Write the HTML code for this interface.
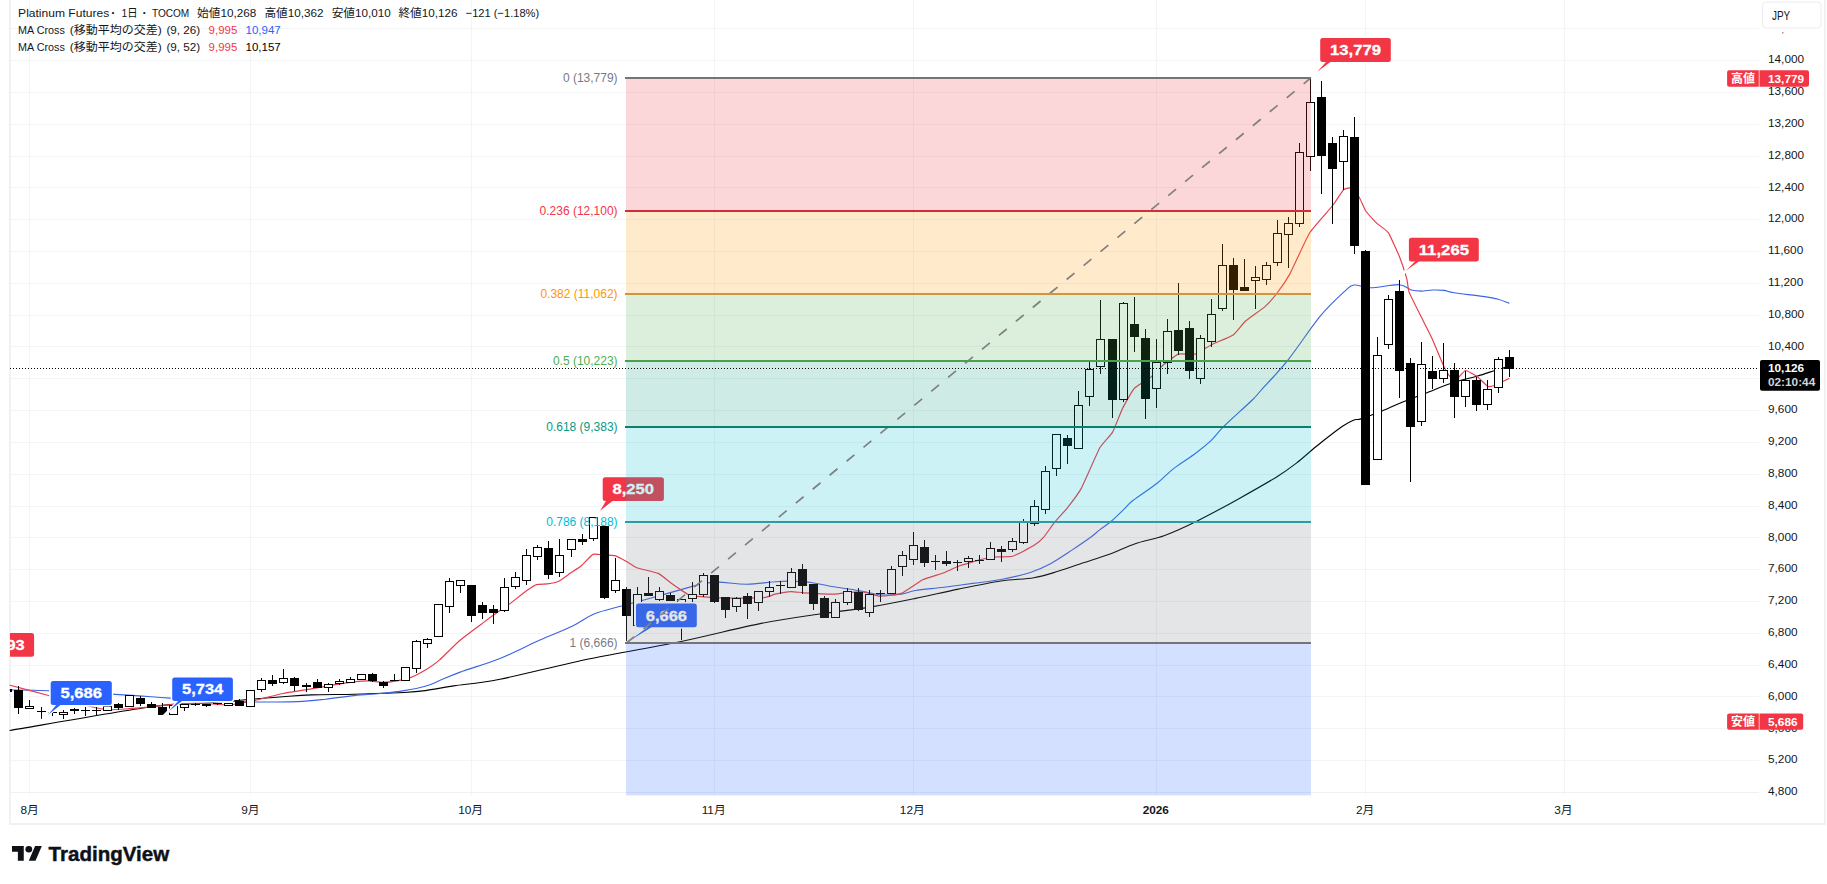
<!DOCTYPE html>
<html lang="ja"><head><meta charset="utf-8"><title>Platinum Futures – TradingView</title>
<style>
html,body{margin:0;padding:0;background:#fff;}
body{width:1827px;height:884px;position:relative;overflow:hidden;font-family:'Liberation Sans','Noto Sans CJK JP',sans-serif;}
</style></head>
<body>
<svg width="1827" height="884" viewBox="0 0 1827 884" style="position:absolute;left:0;top:0;font-family:'Liberation Sans','Noto Sans CJK JP',sans-serif">
<rect width="1827" height="884" fill="#fff"/>
<g fill="#F2F4F5" shape-rendering="crispEdges">
<rect x="10" y="28" width="1749" height="1"/>
<rect x="10" y="60" width="1749" height="1"/>
<rect x="10" y="92" width="1749" height="1"/>
<rect x="10" y="124" width="1749" height="1"/>
<rect x="10" y="156" width="1749" height="1"/>
<rect x="10" y="187" width="1749" height="1"/>
<rect x="10" y="219" width="1749" height="1"/>
<rect x="10" y="251" width="1749" height="1"/>
<rect x="10" y="283" width="1749" height="1"/>
<rect x="10" y="315" width="1749" height="1"/>
<rect x="10" y="346" width="1749" height="1"/>
<rect x="10" y="378" width="1749" height="1"/>
<rect x="10" y="410" width="1749" height="1"/>
<rect x="10" y="442" width="1749" height="1"/>
<rect x="10" y="474" width="1749" height="1"/>
<rect x="10" y="506" width="1749" height="1"/>
<rect x="10" y="537" width="1749" height="1"/>
<rect x="10" y="569" width="1749" height="1"/>
<rect x="10" y="601" width="1749" height="1"/>
<rect x="10" y="633" width="1749" height="1"/>
<rect x="10" y="665" width="1749" height="1"/>
<rect x="10" y="696" width="1749" height="1"/>
<rect x="10" y="728" width="1749" height="1"/>
<rect x="10" y="760" width="1749" height="1"/>
<rect x="29" y="0" width="1" height="796"/>
<rect x="250" y="0" width="1" height="796"/>
<rect x="471" y="0" width="1" height="796"/>
<rect x="714" y="0" width="1" height="796"/>
<rect x="913" y="0" width="1" height="796"/>
<rect x="1156" y="0" width="1" height="796"/>
<rect x="1365" y="0" width="1" height="796"/>
<rect x="1564" y="0" width="1" height="796"/>
</g>
<g fill="#F0F1F3" shape-rendering="crispEdges">
<rect x="9" y="0" width="2" height="825"/>
<rect x="1824" y="0" width="2" height="825"/>
<rect x="9" y="823" width="1817" height="2"/>
<rect x="11" y="792" width="1748" height="1"/>
</g>
<path d="M10.0 730.5C33.3 726.6 118.0 711.5 149.7 707.0C181.4 702.5 184.9 704.6 200.0 703.5C215.1 702.4 226.2 701.3 240.0 700.2C253.8 699.1 270.9 697.6 282.8 696.7C294.7 695.8 299.4 695.3 311.3 694.9C323.2 694.5 342.1 694.5 354.0 694.2C365.9 693.9 374.3 693.5 382.6 693.2C390.9 692.9 396.8 692.9 403.9 692.5C411.0 692.1 417.0 691.7 425.3 690.6C433.6 689.5 441.4 687.8 453.8 685.9C466.2 684.0 477.3 683.7 500.0 679.2C522.7 674.7 559.8 665.1 590.0 658.8C620.2 652.5 652.7 647.4 681.2 641.5C709.7 635.6 738.3 627.9 761.1 623.4C783.9 618.9 806.6 616.0 818.1 614.2C829.6 612.4 820.9 613.9 830.0 612.6C839.1 611.3 858.5 609.0 872.8 606.6C887.0 604.2 901.2 601.3 915.5 598.4C929.8 595.5 944.0 592.0 958.3 589.1C972.6 586.2 988.5 582.9 1001.1 581.0C1013.7 579.1 1024.3 579.3 1033.8 577.7C1043.3 576.1 1050.4 573.6 1058.1 571.3C1065.8 569.0 1071.1 567.0 1080.0 564.0C1088.9 561.0 1102.3 556.9 1111.5 553.5C1120.7 550.1 1126.3 546.7 1135.2 543.7C1144.1 540.7 1154.2 539.3 1164.7 535.4C1175.2 531.5 1186.1 526.4 1198.2 520.4C1210.3 514.4 1224.5 506.7 1237.6 499.4C1250.7 492.1 1267.2 482.8 1277.0 476.7C1286.8 470.6 1290.1 468.0 1296.7 462.9C1303.3 457.8 1308.9 452.3 1316.5 446.2C1324.1 440.1 1335.9 430.9 1342.1 426.5C1348.3 422.1 1350.6 421.3 1353.9 420.0C1357.2 418.7 1356.2 420.5 1361.8 418.6C1367.4 416.7 1381.2 411.2 1387.4 408.7C1393.6 406.2 1392.9 406.0 1399.2 403.4C1405.5 400.8 1416.4 396.7 1425.5 393.2C1434.6 389.7 1445.4 385.1 1454.0 382.3C1462.6 379.5 1470.1 378.2 1476.9 376.2C1483.7 374.2 1490.0 372.0 1494.7 370.5C1499.5 369.0 1503.6 367.9 1505.4 367.4" fill="none" stroke="#000000" stroke-width="1.12" stroke-linejoin="round" stroke-linecap="round"/>
<path d="M10.0 689.9C16.4 690.0 28.8 689.9 48.5 690.8C68.2 691.7 107.8 693.9 128.0 695.1C148.2 696.3 152.1 697.0 169.6 698.1C187.1 699.2 218.9 700.9 233.0 701.5C247.1 702.1 243.6 702.0 254.3 702.0C265.0 702.0 285.1 702.1 297.0 701.6C308.9 701.1 316.0 700.2 325.5 699.2C335.0 698.2 344.5 696.6 354.0 695.6C363.5 694.6 374.3 694.0 382.6 693.2C390.9 692.4 396.8 691.8 403.9 690.6C411.0 689.5 419.4 688.0 425.3 686.3C431.2 684.6 433.8 683.0 439.6 680.6C445.4 678.2 450.1 675.8 460.2 672.1C470.3 668.4 486.7 663.9 500.0 658.5C513.3 653.1 527.9 645.4 540.0 640.0C552.1 634.6 563.7 630.3 572.7 626.0C581.7 621.7 585.7 617.4 594.0 614.0C602.3 610.6 612.4 608.6 622.6 605.7C632.8 602.9 644.1 600.0 655.3 596.9C666.5 593.8 681.7 589.3 689.8 587.1C697.9 584.9 699.2 584.3 704.0 583.5C708.8 582.7 711.2 582.0 718.3 582.1C725.4 582.2 737.3 584.3 746.8 584.2C756.3 584.1 768.2 582.2 775.3 581.7C782.4 581.2 783.6 581.0 789.6 581.1C795.6 581.2 804.3 581.6 811.0 582.5C817.7 583.4 822.1 584.9 830.0 586.2C837.9 587.5 850.2 589.1 858.5 590.5C866.8 591.9 872.8 594.2 879.9 594.8C887.0 595.4 895.4 594.8 901.3 594.1C907.2 593.4 908.4 591.6 915.5 590.5C922.6 589.4 934.5 588.4 944.0 587.2C953.5 586.0 963.1 584.7 972.6 583.4C982.1 582.1 991.6 581.3 1001.1 579.5C1010.6 577.7 1021.3 575.4 1029.6 572.7C1037.9 570.0 1043.9 567.2 1051.0 563.4C1058.1 559.6 1065.8 554.2 1072.3 549.9C1078.8 545.6 1085.4 541.1 1090.0 537.8C1094.6 534.5 1096.1 532.7 1099.7 529.9C1103.3 527.1 1107.5 524.5 1111.5 521.0C1115.5 517.5 1120.4 512.6 1124.0 509.1C1127.6 505.7 1127.7 504.6 1133.2 500.3C1138.7 496.0 1150.0 488.8 1156.8 483.5C1163.6 478.2 1167.5 473.4 1173.9 468.4C1180.3 463.4 1189.1 458.1 1195.3 453.5C1201.5 448.9 1206.2 445.1 1211.0 440.6C1215.8 436.1 1216.9 433.2 1223.8 426.4C1230.7 419.6 1246.0 406.1 1252.3 400.0C1258.5 393.9 1255.3 396.7 1261.3 390.0C1267.3 383.3 1278.3 372.1 1288.1 359.8C1297.9 347.5 1310.7 327.7 1320.0 316.4C1329.3 305.1 1338.4 297.1 1344.0 291.9C1349.6 286.7 1349.4 285.7 1353.8 285.0C1358.2 284.3 1363.0 287.9 1370.6 287.8C1378.2 287.8 1392.4 284.3 1399.2 284.7C1406.0 285.1 1407.6 288.9 1411.3 290.0C1415.0 291.1 1417.7 291.1 1421.3 291.1C1424.9 291.1 1428.9 290.1 1432.7 290.0C1436.5 289.9 1440.5 289.9 1444.1 290.4C1447.6 290.9 1447.6 291.8 1454.0 292.8C1460.4 293.8 1475.2 295.3 1482.6 296.4C1490.0 297.5 1493.8 298.1 1498.2 299.2C1502.6 300.3 1507.1 302.5 1508.9 303.1" fill="none" stroke="#3A64E4" stroke-width="1.12" stroke-linejoin="round" stroke-linecap="round"/>
<path d="M10.0 685.3C12.8 686.0 44.2 694.3 48.5 695.5C52.8 696.7 66.8 700.7 70.0 701.5C73.2 702.3 90.0 706.4 92.7 707.0C95.4 707.6 106.0 709.7 108.3 709.8C110.6 709.9 122.6 709.1 125.0 709.0C127.4 708.9 140.2 707.9 142.5 707.7C144.8 707.5 154.2 706.5 156.8 706.2C159.4 705.9 175.1 704.3 178.2 704.1C181.3 703.9 196.0 703.0 199.6 703.1C203.2 703.2 224.9 705.1 228.0 705.1C231.1 705.1 240.4 703.0 242.3 702.7C244.2 702.4 251.4 701.3 254.3 700.6C257.2 699.9 278.7 694.3 282.8 693.5C286.9 692.7 307.2 689.6 311.3 688.9C315.4 688.2 336.8 684.4 339.8 683.9C342.9 683.4 352.0 682.0 354.0 681.8C356.0 681.6 366.3 680.9 368.3 680.9C370.3 680.9 380.6 682.4 382.6 682.4C384.6 682.4 394.8 681.3 396.8 680.9C398.8 680.5 409.0 678.2 411.1 677.4C413.2 676.6 424.7 670.5 426.7 669.3C428.7 668.0 437.3 661.9 439.6 659.9C441.9 657.9 456.4 643.3 459.5 640.7C462.6 638.1 479.4 625.5 482.3 623.4C485.2 621.2 498.1 611.9 500.0 610.6C501.9 609.3 506.6 606.2 508.5 604.8C510.4 603.4 524.9 591.9 526.9 590.5C528.9 589.1 534.9 585.1 536.4 584.6C537.9 584.1 545.9 584.1 547.5 583.9C549.1 583.7 557.1 582.1 558.7 581.3C560.3 580.5 568.9 574.2 570.5 573.1C572.1 572.0 580.1 566.8 581.7 565.5C583.3 564.2 591.3 555.1 592.9 554.4C594.5 553.6 602.4 554.9 604.0 555.0C605.6 555.1 613.1 555.2 614.7 555.6C616.3 556.0 624.4 560.3 626.0 561.2C627.6 562.1 634.5 566.8 636.8 567.7C639.1 568.6 655.6 572.2 658.2 573.4C660.8 574.6 670.4 582.6 672.7 584.2C675.0 585.8 687.6 594.5 689.8 595.4C692.0 596.3 702.0 596.6 704.0 596.8C706.0 597.0 715.8 597.7 718.3 597.8C720.8 597.9 736.3 598.2 739.7 598.2C743.1 598.2 762.8 597.6 765.3 597.3C767.8 597.0 773.5 594.6 775.3 594.2C777.1 593.8 789.0 591.7 791.0 591.6C793.0 591.5 800.8 592.6 803.8 592.8C806.8 593.0 829.4 594.2 832.3 594.2C835.2 594.2 842.1 593.1 844.3 592.9C846.5 592.7 860.3 591.7 862.8 591.9C865.3 592.1 877.1 596.1 879.9 596.2C882.6 596.3 898.2 594.6 901.3 593.4C904.4 592.2 919.7 581.3 922.7 579.8C925.8 578.3 941.5 573.7 944.0 572.7C946.5 571.7 955.8 567.2 958.3 566.3C960.8 565.4 977.2 560.6 979.7 559.9C982.2 559.2 991.6 557.3 993.9 557.0C996.2 556.7 1009.6 557.1 1012.5 556.3C1015.4 555.5 1031.6 547.0 1033.8 545.6C1036.0 544.2 1042.3 538.8 1043.8 537.1C1045.3 535.4 1053.5 523.5 1055.2 521.4C1056.9 519.3 1065.1 510.7 1067.0 508.3C1068.9 505.9 1079.0 492.7 1081.3 488.4C1083.6 484.1 1097.6 451.8 1099.8 447.8C1102.0 443.8 1111.0 434.9 1112.6 432.1C1114.2 429.3 1120.9 411.8 1122.4 408.7C1123.9 405.6 1132.0 390.9 1134.1 388.6C1136.2 386.3 1149.2 378.5 1151.2 376.9C1153.2 375.2 1160.7 367.1 1162.6 365.5C1164.5 363.9 1176.0 354.9 1178.3 354.1C1180.6 353.3 1193.1 354.8 1195.4 354.1C1197.7 353.4 1208.4 346.3 1211.1 344.9C1213.8 343.5 1230.8 336.6 1233.2 334.9C1235.6 333.2 1243.0 323.3 1245.3 321.3C1247.6 319.3 1263.1 308.4 1265.3 306.4C1267.5 304.4 1275.0 295.8 1276.7 293.5C1278.5 291.2 1287.4 278.4 1289.8 274.1C1292.2 269.8 1306.6 237.7 1309.7 232.8C1312.8 227.9 1330.3 208.6 1332.7 205.5C1335.1 202.4 1342.2 191.1 1343.4 189.9C1344.6 188.7 1348.8 187.6 1349.9 188.1C1351.0 188.6 1358.0 195.4 1359.1 197.0C1360.2 198.6 1364.2 208.6 1365.5 210.5C1366.8 212.4 1375.3 221.8 1376.9 223.4C1378.5 225.0 1386.7 230.2 1388.3 232.6C1389.9 235.0 1398.3 253.7 1399.6 257.0C1400.9 260.3 1406.0 275.9 1406.7 278.4C1407.4 280.9 1408.1 289.3 1409.1 292.1C1410.1 294.9 1419.6 313.6 1421.3 317.0C1423.0 320.4 1431.1 336.3 1432.7 339.9C1434.3 343.5 1442.8 364.3 1444.1 366.9C1445.4 369.5 1449.5 376.1 1450.5 376.9C1451.5 377.7 1457.2 378.1 1458.3 377.6C1459.4 377.1 1464.1 370.6 1465.4 370.5C1466.7 370.4 1475.3 375.1 1476.9 376.2C1478.5 377.3 1486.2 385.5 1487.5 386.2C1488.8 386.9 1493.2 386.0 1494.7 385.5C1496.2 385.0 1507.9 379.1 1508.9 378.6" fill="none" stroke="#E83C4C" stroke-width="1.18" stroke-linejoin="round" stroke-linecap="round"/>
<g shape-rendering="crispEdges">
<rect x="10" y="689" width="2" height="3" fill="#000"/>
<rect x="18" y="686" width="1" height="28" fill="#000"/>
<rect x="14" y="690" width="9" height="18" fill="#000"/>
<rect x="29" y="700" width="1" height="9" fill="#000"/>
<rect x="25" y="706" width="9" height="3" fill="#000"/>
<rect x="26" y="707" width="7" height="1" fill="#fff"/>
<rect x="41" y="707" width="1" height="12" fill="#000"/>
<rect x="37" y="711" width="9" height="1" fill="#000"/>
<rect x="52" y="709" width="1" height="7" fill="#000"/>
<rect x="48" y="712" width="9" height="1" fill="#000"/>
<rect x="63" y="710" width="1" height="9" fill="#000"/>
<rect x="59" y="712" width="9" height="3" fill="#000"/>
<rect x="60" y="713" width="7" height="1" fill="#fff"/>
<rect x="74" y="708" width="1" height="6" fill="#000"/>
<rect x="70" y="709" width="9" height="2" fill="#000"/>
<rect x="85" y="707" width="1" height="9" fill="#000"/>
<rect x="81" y="710" width="9" height="1" fill="#000"/>
<rect x="96" y="707" width="1" height="9" fill="#000"/>
<rect x="92" y="710" width="9" height="1" fill="#000"/>
<rect x="107" y="705" width="1" height="6" fill="#000"/>
<rect x="103" y="706" width="9" height="5" fill="#000"/>
<rect x="104" y="707" width="7" height="3" fill="#fff"/>
<rect x="118" y="703" width="1" height="7" fill="#000"/>
<rect x="114" y="704" width="9" height="4" fill="#000"/>
<rect x="129" y="695" width="1" height="12" fill="#000"/>
<rect x="125" y="695" width="9" height="12" fill="#000"/>
<rect x="126" y="696" width="7" height="10" fill="#fff"/>
<rect x="140" y="696" width="1" height="10" fill="#000"/>
<rect x="136" y="698" width="9" height="6" fill="#000"/>
<rect x="151" y="702" width="1" height="6" fill="#000"/>
<rect x="147" y="704" width="9" height="4" fill="#000"/>
<rect x="162" y="703" width="1" height="12" fill="#000"/>
<rect x="158" y="707" width="9" height="8" fill="#000"/>
<rect x="173" y="705" width="1" height="10" fill="#000"/>
<rect x="169" y="705" width="9" height="10" fill="#000"/>
<rect x="170" y="706" width="7" height="8" fill="#fff"/>
<rect x="184" y="704" width="1" height="7" fill="#000"/>
<rect x="180" y="704" width="9" height="4" fill="#000"/>
<rect x="181" y="705" width="7" height="2" fill="#fff"/>
<rect x="195" y="703" width="1" height="3" fill="#000"/>
<rect x="191" y="704" width="9" height="1" fill="#000"/>
<rect x="206" y="704" width="1" height="3" fill="#000"/>
<rect x="202" y="704" width="9" height="2" fill="#000"/>
<rect x="217" y="703" width="1" height="2" fill="#000"/>
<rect x="213" y="703" width="9" height="1" fill="#000"/>
<rect x="228" y="703" width="1" height="3" fill="#000"/>
<rect x="224" y="703" width="9" height="3" fill="#000"/>
<rect x="225" y="704" width="7" height="1" fill="#fff"/>
<rect x="239" y="699" width="1" height="7" fill="#000"/>
<rect x="235" y="701" width="9" height="5" fill="#000"/>
<rect x="250" y="690" width="1" height="17" fill="#000"/>
<rect x="246" y="690" width="9" height="17" fill="#000"/>
<rect x="247" y="691" width="7" height="15" fill="#fff"/>
<rect x="261" y="678" width="1" height="14" fill="#000"/>
<rect x="257" y="680" width="9" height="10" fill="#000"/>
<rect x="258" y="681" width="7" height="8" fill="#fff"/>
<rect x="272" y="675" width="1" height="11" fill="#000"/>
<rect x="268" y="680" width="9" height="4" fill="#000"/>
<rect x="283" y="669" width="1" height="15" fill="#000"/>
<rect x="279" y="678" width="9" height="5" fill="#000"/>
<rect x="280" y="679" width="7" height="3" fill="#fff"/>
<rect x="294" y="677" width="1" height="14" fill="#000"/>
<rect x="290" y="678" width="9" height="8" fill="#000"/>
<rect x="306" y="683" width="1" height="9" fill="#000"/>
<rect x="302" y="685" width="9" height="2" fill="#000"/>
<rect x="317" y="679" width="1" height="9" fill="#000"/>
<rect x="313" y="682" width="9" height="6" fill="#000"/>
<rect x="328" y="683" width="1" height="9" fill="#000"/>
<rect x="324" y="684" width="9" height="4" fill="#000"/>
<rect x="325" y="685" width="7" height="2" fill="#fff"/>
<rect x="339" y="679" width="1" height="6" fill="#000"/>
<rect x="335" y="681" width="9" height="3" fill="#000"/>
<rect x="336" y="682" width="7" height="1" fill="#fff"/>
<rect x="350" y="677" width="1" height="6" fill="#000"/>
<rect x="346" y="679" width="9" height="4" fill="#000"/>
<rect x="347" y="680" width="7" height="2" fill="#fff"/>
<rect x="361" y="674" width="1" height="6" fill="#000"/>
<rect x="357" y="674" width="9" height="6" fill="#000"/>
<rect x="358" y="675" width="7" height="4" fill="#fff"/>
<rect x="372" y="673" width="1" height="9" fill="#000"/>
<rect x="368" y="674" width="9" height="7" fill="#000"/>
<rect x="383" y="681" width="1" height="7" fill="#000"/>
<rect x="379" y="682" width="9" height="4" fill="#000"/>
<rect x="394" y="674" width="1" height="7" fill="#000"/>
<rect x="390" y="680" width="9" height="1" fill="#000"/>
<rect x="405" y="667" width="1" height="14" fill="#000"/>
<rect x="401" y="667" width="9" height="14" fill="#000"/>
<rect x="402" y="668" width="7" height="12" fill="#fff"/>
<rect x="416" y="640" width="1" height="33" fill="#000"/>
<rect x="412" y="641" width="9" height="28" fill="#000"/>
<rect x="413" y="642" width="7" height="26" fill="#fff"/>
<rect x="427" y="638" width="1" height="10" fill="#000"/>
<rect x="423" y="639" width="9" height="5" fill="#000"/>
<rect x="424" y="640" width="7" height="3" fill="#fff"/>
<rect x="438" y="604" width="1" height="33" fill="#000"/>
<rect x="434" y="604" width="9" height="33" fill="#000"/>
<rect x="435" y="605" width="7" height="31" fill="#fff"/>
<rect x="449" y="578" width="1" height="35" fill="#000"/>
<rect x="445" y="581" width="9" height="26" fill="#000"/>
<rect x="446" y="582" width="7" height="24" fill="#fff"/>
<rect x="460" y="580" width="1" height="13" fill="#000"/>
<rect x="456" y="580" width="9" height="6" fill="#000"/>
<rect x="457" y="581" width="7" height="4" fill="#fff"/>
<rect x="471" y="585" width="1" height="37" fill="#000"/>
<rect x="467" y="585" width="9" height="31" fill="#000"/>
<rect x="482" y="602" width="1" height="17" fill="#000"/>
<rect x="478" y="605" width="9" height="8" fill="#000"/>
<rect x="493" y="605" width="1" height="19" fill="#000"/>
<rect x="489" y="609" width="9" height="4" fill="#000"/>
<rect x="504" y="578" width="1" height="34" fill="#000"/>
<rect x="500" y="587" width="9" height="24" fill="#000"/>
<rect x="501" y="588" width="7" height="22" fill="#fff"/>
<rect x="515" y="572" width="1" height="17" fill="#000"/>
<rect x="511" y="577" width="9" height="10" fill="#000"/>
<rect x="512" y="578" width="7" height="8" fill="#fff"/>
<rect x="526" y="549" width="1" height="36" fill="#000"/>
<rect x="522" y="555" width="9" height="26" fill="#000"/>
<rect x="523" y="556" width="7" height="24" fill="#fff"/>
<rect x="537" y="545" width="1" height="15" fill="#000"/>
<rect x="533" y="547" width="9" height="10" fill="#000"/>
<rect x="534" y="548" width="7" height="8" fill="#fff"/>
<rect x="548" y="541" width="1" height="38" fill="#000"/>
<rect x="544" y="548" width="9" height="27" fill="#000"/>
<rect x="559" y="539" width="1" height="38" fill="#000"/>
<rect x="555" y="555" width="9" height="18" fill="#000"/>
<rect x="556" y="556" width="7" height="16" fill="#fff"/>
<rect x="571" y="539" width="1" height="18" fill="#000"/>
<rect x="567" y="539" width="9" height="11" fill="#000"/>
<rect x="568" y="540" width="7" height="9" fill="#fff"/>
<rect x="582" y="534" width="1" height="11" fill="#000"/>
<rect x="578" y="539" width="9" height="3" fill="#000"/>
<rect x="593" y="517" width="1" height="24" fill="#000"/>
<rect x="589" y="517" width="9" height="22" fill="#000"/>
<rect x="590" y="518" width="7" height="20" fill="#fff"/>
<rect x="604" y="526" width="1" height="73" fill="#000"/>
<rect x="600" y="526" width="9" height="72" fill="#000"/>
<rect x="615" y="558" width="1" height="35" fill="#000"/>
<rect x="611" y="580" width="9" height="11" fill="#000"/>
<rect x="612" y="581" width="7" height="9" fill="#fff"/>
<rect x="626" y="587" width="1" height="56" fill="#000"/>
<rect x="622" y="589" width="9" height="27" fill="#000"/>
<rect x="637" y="587" width="1" height="39" fill="#000"/>
<rect x="633" y="594" width="9" height="32" fill="#000"/>
<rect x="634" y="595" width="7" height="30" fill="#fff"/>
<rect x="648" y="577" width="1" height="19" fill="#000"/>
<rect x="644" y="593" width="9" height="3" fill="#000"/>
<rect x="659" y="587" width="1" height="14" fill="#000"/>
<rect x="655" y="591" width="9" height="9" fill="#000"/>
<rect x="656" y="592" width="7" height="7" fill="#fff"/>
<rect x="670" y="593" width="1" height="8" fill="#000"/>
<rect x="666" y="595" width="9" height="6" fill="#000"/>
<rect x="681" y="599" width="1" height="41" fill="#000"/>
<rect x="677" y="599" width="9" height="26" fill="#000"/>
<rect x="678" y="600" width="7" height="24" fill="#fff"/>
<rect x="692" y="582" width="1" height="20" fill="#000"/>
<rect x="688" y="594" width="9" height="5" fill="#000"/>
<rect x="689" y="595" width="7" height="3" fill="#fff"/>
<rect x="703" y="573" width="1" height="24" fill="#000"/>
<rect x="699" y="575" width="9" height="20" fill="#000"/>
<rect x="700" y="576" width="7" height="18" fill="#fff"/>
<rect x="714" y="575" width="1" height="28" fill="#000"/>
<rect x="710" y="575" width="9" height="27" fill="#000"/>
<rect x="725" y="597" width="1" height="21" fill="#000"/>
<rect x="721" y="597" width="9" height="13" fill="#000"/>
<rect x="736" y="597" width="1" height="15" fill="#000"/>
<rect x="732" y="598" width="9" height="9" fill="#000"/>
<rect x="733" y="599" width="7" height="7" fill="#fff"/>
<rect x="747" y="593" width="1" height="26" fill="#000"/>
<rect x="743" y="596" width="9" height="8" fill="#000"/>
<rect x="758" y="591" width="1" height="20" fill="#000"/>
<rect x="754" y="591" width="9" height="12" fill="#000"/>
<rect x="755" y="592" width="7" height="10" fill="#fff"/>
<rect x="769" y="581" width="1" height="16" fill="#000"/>
<rect x="765" y="587" width="9" height="5" fill="#000"/>
<rect x="766" y="588" width="7" height="3" fill="#fff"/>
<rect x="780" y="581" width="1" height="13" fill="#000"/>
<rect x="776" y="585" width="9" height="1" fill="#000"/>
<rect x="791" y="568" width="1" height="20" fill="#000"/>
<rect x="787" y="572" width="9" height="16" fill="#000"/>
<rect x="788" y="573" width="7" height="14" fill="#fff"/>
<rect x="802" y="564" width="1" height="30" fill="#000"/>
<rect x="798" y="569" width="9" height="17" fill="#000"/>
<rect x="813" y="584" width="1" height="26" fill="#000"/>
<rect x="809" y="584" width="9" height="20" fill="#000"/>
<rect x="824" y="596" width="1" height="22" fill="#000"/>
<rect x="820" y="598" width="9" height="20" fill="#000"/>
<rect x="835" y="599" width="1" height="19" fill="#000"/>
<rect x="831" y="602" width="9" height="16" fill="#000"/>
<rect x="832" y="603" width="7" height="14" fill="#fff"/>
<rect x="847" y="588" width="1" height="17" fill="#000"/>
<rect x="843" y="591" width="9" height="12" fill="#000"/>
<rect x="844" y="592" width="7" height="10" fill="#fff"/>
<rect x="858" y="588" width="1" height="23" fill="#000"/>
<rect x="854" y="592" width="9" height="18" fill="#000"/>
<rect x="869" y="590" width="1" height="27" fill="#000"/>
<rect x="865" y="594" width="9" height="19" fill="#000"/>
<rect x="866" y="595" width="7" height="17" fill="#fff"/>
<rect x="880" y="590" width="1" height="12" fill="#000"/>
<rect x="876" y="593" width="9" height="1" fill="#000"/>
<rect x="891" y="566" width="1" height="28" fill="#000"/>
<rect x="887" y="569" width="9" height="25" fill="#000"/>
<rect x="888" y="570" width="7" height="23" fill="#fff"/>
<rect x="902" y="551" width="1" height="25" fill="#000"/>
<rect x="898" y="555" width="9" height="12" fill="#000"/>
<rect x="899" y="556" width="7" height="10" fill="#fff"/>
<rect x="913" y="532" width="1" height="33" fill="#000"/>
<rect x="909" y="545" width="9" height="15" fill="#000"/>
<rect x="910" y="546" width="7" height="13" fill="#fff"/>
<rect x="924" y="540" width="1" height="27" fill="#000"/>
<rect x="920" y="547" width="9" height="16" fill="#000"/>
<rect x="935" y="555" width="1" height="15" fill="#000"/>
<rect x="931" y="561" width="9" height="1" fill="#000"/>
<rect x="946" y="551" width="1" height="15" fill="#000"/>
<rect x="942" y="561" width="9" height="3" fill="#000"/>
<rect x="957" y="560" width="1" height="11" fill="#000"/>
<rect x="953" y="562" width="9" height="1" fill="#000"/>
<rect x="968" y="556" width="1" height="12" fill="#000"/>
<rect x="964" y="558" width="9" height="4" fill="#000"/>
<rect x="965" y="559" width="7" height="2" fill="#fff"/>
<rect x="979" y="555" width="1" height="9" fill="#000"/>
<rect x="975" y="560" width="9" height="1" fill="#000"/>
<rect x="990" y="542" width="1" height="18" fill="#000"/>
<rect x="986" y="548" width="9" height="12" fill="#000"/>
<rect x="987" y="549" width="7" height="10" fill="#fff"/>
<rect x="1001" y="546" width="1" height="16" fill="#000"/>
<rect x="997" y="549" width="9" height="3" fill="#000"/>
<rect x="1012" y="538" width="1" height="14" fill="#000"/>
<rect x="1008" y="541" width="9" height="9" fill="#000"/>
<rect x="1009" y="542" width="7" height="7" fill="#fff"/>
<rect x="1023" y="519" width="1" height="25" fill="#000"/>
<rect x="1019" y="522" width="9" height="21" fill="#000"/>
<rect x="1020" y="523" width="7" height="19" fill="#fff"/>
<rect x="1034" y="500" width="1" height="26" fill="#000"/>
<rect x="1030" y="506" width="9" height="18" fill="#000"/>
<rect x="1031" y="507" width="7" height="16" fill="#fff"/>
<rect x="1045" y="466" width="1" height="48" fill="#000"/>
<rect x="1041" y="471" width="9" height="39" fill="#000"/>
<rect x="1042" y="472" width="7" height="37" fill="#fff"/>
<rect x="1056" y="434" width="1" height="42" fill="#000"/>
<rect x="1052" y="434" width="9" height="35" fill="#000"/>
<rect x="1053" y="435" width="7" height="33" fill="#fff"/>
<rect x="1067" y="435" width="1" height="29" fill="#000"/>
<rect x="1063" y="438" width="9" height="8" fill="#000"/>
<rect x="1078" y="391" width="1" height="58" fill="#000"/>
<rect x="1074" y="405" width="9" height="44" fill="#000"/>
<rect x="1075" y="406" width="7" height="42" fill="#fff"/>
<rect x="1089" y="361" width="1" height="45" fill="#000"/>
<rect x="1085" y="369" width="9" height="28" fill="#000"/>
<rect x="1086" y="370" width="7" height="26" fill="#fff"/>
<rect x="1100" y="300" width="1" height="74" fill="#000"/>
<rect x="1096" y="339" width="9" height="28" fill="#000"/>
<rect x="1097" y="340" width="7" height="26" fill="#fff"/>
<rect x="1112" y="339" width="1" height="79" fill="#000"/>
<rect x="1108" y="339" width="9" height="61" fill="#000"/>
<rect x="1123" y="302" width="1" height="100" fill="#000"/>
<rect x="1119" y="303" width="9" height="97" fill="#000"/>
<rect x="1120" y="304" width="7" height="95" fill="#fff"/>
<rect x="1134" y="297" width="1" height="55" fill="#000"/>
<rect x="1130" y="324" width="9" height="13" fill="#000"/>
<rect x="1145" y="329" width="1" height="90" fill="#000"/>
<rect x="1141" y="338" width="9" height="61" fill="#000"/>
<rect x="1156" y="339" width="1" height="69" fill="#000"/>
<rect x="1152" y="362" width="9" height="27" fill="#000"/>
<rect x="1153" y="363" width="7" height="25" fill="#fff"/>
<rect x="1167" y="319" width="1" height="55" fill="#000"/>
<rect x="1163" y="331" width="9" height="32" fill="#000"/>
<rect x="1164" y="332" width="7" height="30" fill="#fff"/>
<rect x="1178" y="283" width="1" height="72" fill="#000"/>
<rect x="1174" y="330" width="9" height="21" fill="#000"/>
<rect x="1189" y="321" width="1" height="58" fill="#000"/>
<rect x="1185" y="328" width="9" height="43" fill="#000"/>
<rect x="1200" y="335" width="1" height="49" fill="#000"/>
<rect x="1196" y="338" width="9" height="41" fill="#000"/>
<rect x="1197" y="339" width="7" height="39" fill="#fff"/>
<rect x="1211" y="299" width="1" height="48" fill="#000"/>
<rect x="1207" y="314" width="9" height="28" fill="#000"/>
<rect x="1208" y="315" width="7" height="26" fill="#fff"/>
<rect x="1222" y="244" width="1" height="67" fill="#000"/>
<rect x="1218" y="265" width="9" height="44" fill="#000"/>
<rect x="1219" y="266" width="7" height="42" fill="#fff"/>
<rect x="1233" y="258" width="1" height="62" fill="#000"/>
<rect x="1229" y="265" width="9" height="25" fill="#000"/>
<rect x="1244" y="259" width="1" height="32" fill="#000"/>
<rect x="1240" y="287" width="9" height="4" fill="#000"/>
<rect x="1255" y="266" width="1" height="43" fill="#000"/>
<rect x="1251" y="277" width="9" height="4" fill="#000"/>
<rect x="1252" y="278" width="7" height="2" fill="#fff"/>
<rect x="1266" y="262" width="1" height="23" fill="#000"/>
<rect x="1262" y="265" width="9" height="15" fill="#000"/>
<rect x="1263" y="266" width="7" height="13" fill="#fff"/>
<rect x="1277" y="220" width="1" height="46" fill="#000"/>
<rect x="1273" y="233" width="9" height="30" fill="#000"/>
<rect x="1274" y="234" width="7" height="28" fill="#fff"/>
<rect x="1288" y="217" width="1" height="51" fill="#000"/>
<rect x="1284" y="223" width="9" height="12" fill="#000"/>
<rect x="1285" y="224" width="7" height="10" fill="#fff"/>
<rect x="1299" y="143" width="1" height="84" fill="#000"/>
<rect x="1295" y="152" width="9" height="72" fill="#000"/>
<rect x="1296" y="153" width="7" height="70" fill="#fff"/>
<rect x="1310" y="78" width="1" height="93" fill="#000"/>
<rect x="1306" y="102" width="9" height="55" fill="#000"/>
<rect x="1307" y="103" width="7" height="53" fill="#fff"/>
<rect x="1321" y="81" width="1" height="113" fill="#000"/>
<rect x="1317" y="97" width="9" height="59" fill="#000"/>
<rect x="1332" y="137" width="1" height="87" fill="#000"/>
<rect x="1328" y="143" width="9" height="26" fill="#000"/>
<rect x="1343" y="130" width="1" height="60" fill="#000"/>
<rect x="1339" y="136" width="9" height="26" fill="#000"/>
<rect x="1340" y="137" width="7" height="24" fill="#fff"/>
<rect x="1354" y="117" width="1" height="137" fill="#000"/>
<rect x="1350" y="137" width="9" height="109" fill="#000"/>
<rect x="1365" y="250" width="1" height="235" fill="#000"/>
<rect x="1361" y="251" width="9" height="234" fill="#000"/>
<rect x="1377" y="337" width="1" height="123" fill="#000"/>
<rect x="1373" y="355" width="9" height="105" fill="#000"/>
<rect x="1374" y="356" width="7" height="103" fill="#fff"/>
<rect x="1388" y="295" width="1" height="54" fill="#000"/>
<rect x="1384" y="299" width="9" height="46" fill="#000"/>
<rect x="1385" y="300" width="7" height="44" fill="#fff"/>
<rect x="1399" y="280" width="1" height="118" fill="#000"/>
<rect x="1395" y="291" width="9" height="80" fill="#000"/>
<rect x="1410" y="358" width="1" height="124" fill="#000"/>
<rect x="1406" y="363" width="9" height="64" fill="#000"/>
<rect x="1421" y="342" width="1" height="84" fill="#000"/>
<rect x="1417" y="364" width="9" height="58" fill="#000"/>
<rect x="1418" y="365" width="7" height="56" fill="#fff"/>
<rect x="1432" y="356" width="1" height="33" fill="#000"/>
<rect x="1428" y="371" width="9" height="8" fill="#000"/>
<rect x="1443" y="343" width="1" height="40" fill="#000"/>
<rect x="1439" y="370" width="9" height="9" fill="#000"/>
<rect x="1440" y="371" width="7" height="7" fill="#fff"/>
<rect x="1454" y="363" width="1" height="55" fill="#000"/>
<rect x="1450" y="370" width="9" height="27" fill="#000"/>
<rect x="1465" y="371" width="1" height="36" fill="#000"/>
<rect x="1461" y="380" width="9" height="17" fill="#000"/>
<rect x="1462" y="381" width="7" height="15" fill="#fff"/>
<rect x="1476" y="377" width="1" height="34" fill="#000"/>
<rect x="1472" y="380" width="9" height="25" fill="#000"/>
<rect x="1487" y="380" width="1" height="30" fill="#000"/>
<rect x="1483" y="389" width="9" height="16" fill="#000"/>
<rect x="1484" y="390" width="7" height="14" fill="#fff"/>
<rect x="1498" y="357" width="1" height="36" fill="#000"/>
<rect x="1494" y="359" width="9" height="29" fill="#000"/>
<rect x="1495" y="360" width="7" height="27" fill="#fff"/>
<rect x="1509" y="350" width="1" height="27" fill="#000"/>
<rect x="1505" y="357" width="9" height="12" fill="#000"/>
</g>
<defs><clipPath id="pane"><rect x="10" y="0" width="1749" height="796"/></clipPath></defs>
<g clip-path="url(#pane)">
<polygon points="-30,668 -22,656.3 -15,656.3" fill="#fff" stroke="#fff" stroke-width="2.6" stroke-linejoin="round"/>
<rect x="-27" y="633.1" width="61.1" height="23.7" rx="2.5" fill="#fff" stroke="#fff" stroke-width="3"/>
<polygon points="-30,668 -22,656.3 -15,656.3" fill="#F23645"/>
<rect x="-27" y="633.1" width="61.1" height="23.7" rx="2.5" fill="#F23645"/>
<text x="15.6" y="650.2" text-anchor="middle" font-size="15.3" font-weight="700" fill="#fff" stroke="#fff" stroke-width="0.3" textLength="18.2" lengthAdjust="spacingAndGlyphs">93</text>
</g>
<line x1="48.1" y1="714.75" x2="40.8" y2="721.6" stroke="#fff" stroke-width="2.8"/>
<line x1="169.6" y1="710.4" x2="161.6" y2="718.2" stroke="#fff" stroke-width="3"/>
<g>
<polygon points="48.1,714.75 56.6,704.4 61.2,704.4" fill="#fff" stroke="#fff" stroke-width="2.6" stroke-linejoin="round"/>
<rect x="50.7" y="681.1" width="61.1" height="23.8" rx="2.5" fill="#fff" stroke="#fff" stroke-width="3"/>
<polygon points="48.1,714.75 56.6,704.4 61.2,704.4" fill="#2962FF"/>
<rect x="50.7" y="681.1" width="61.1" height="23.8" rx="2.5" fill="#2962FF"/>
<text x="81.2" y="698.2" text-anchor="middle" font-size="15.3" font-weight="700" fill="#fff" stroke="#fff" stroke-width="0.3" textLength="41.6" lengthAdjust="spacingAndGlyphs">5,686</text>
</g>
<g>
<polygon points="168.9,711.05 178.75,700.4 182.7,700.4" fill="#fff" stroke="#fff" stroke-width="2.6" stroke-linejoin="round"/>
<rect x="172.2" y="677.5" width="60.7" height="23.4" rx="2.5" fill="#fff" stroke="#fff" stroke-width="3"/>
<polygon points="168.9,711.05 178.75,700.4 182.7,700.4" fill="#2962FF"/>
<rect x="172.2" y="677.5" width="60.7" height="23.4" rx="2.5" fill="#2962FF"/>
<text x="202.6" y="694.4" text-anchor="middle" font-size="15.3" font-weight="700" fill="#fff" stroke="#fff" stroke-width="0.3" textLength="41.2" lengthAdjust="spacingAndGlyphs">5,734</text>
</g>
<g>
<polygon points="600,510.8 606.3,500.6 613.2,500.6" fill="#fff" stroke="#fff" stroke-width="2.6" stroke-linejoin="round"/>
<rect x="602.7" y="477.2" width="61.2" height="23.9" rx="2.5" fill="#fff" stroke="#fff" stroke-width="3"/>
<polygon points="600,510.8 606.3,500.6 613.2,500.6" fill="#F23645"/>
<rect x="602.7" y="477.2" width="61.2" height="23.9" rx="2.5" fill="#F23645"/>
<text x="633.3" y="494.3" text-anchor="middle" font-size="15.3" font-weight="700" fill="#fff" stroke="#fff" stroke-width="0.3" textLength="41.7" lengthAdjust="spacingAndGlyphs">8,250</text>
</g>
<g>
<polygon points="626.8,642.4 648.3,626.7 652.3,626.7" fill="#fff" stroke="#fff" stroke-width="2.6" stroke-linejoin="round"/>
<rect x="636" y="603.6" width="60.8" height="23.6" rx="2.5" fill="#fff" stroke="#fff" stroke-width="3"/>
<polygon points="626.8,642.4 648.3,626.7 652.3,626.7" fill="#2962FF"/>
<rect x="636" y="603.6" width="60.8" height="23.6" rx="2.5" fill="#2962FF"/>
<text x="666.4" y="620.6" text-anchor="middle" font-size="15.3" font-weight="700" fill="#fff" stroke="#fff" stroke-width="0.3" textLength="41.3" lengthAdjust="spacingAndGlyphs">6,666</text>
</g>
<g>
<polygon points="1317.25,71.7 1326.45,61.4 1331.05,61.4" fill="#fff" stroke="#fff" stroke-width="2.6" stroke-linejoin="round"/>
<rect x="1320.2" y="37.9" width="70.6" height="24.0" rx="2.5" fill="#fff" stroke="#fff" stroke-width="3"/>
<polygon points="1317.25,71.7 1326.45,61.4 1331.05,61.4" fill="#F23645"/>
<rect x="1320.2" y="37.9" width="70.6" height="24.0" rx="2.5" fill="#F23645"/>
<text x="1355.5" y="55.1" text-anchor="middle" font-size="15.3" font-weight="700" fill="#fff" stroke="#fff" stroke-width="0.3" textLength="51.1" lengthAdjust="spacingAndGlyphs">13,779</text>
</g>
<line x1="1406.2" y1="270.4" x2="1401.2" y2="275.4" stroke="#fff" stroke-width="2.8"/>
<g>
<polygon points="1405.9,270.65 1415.5,260.95 1419.4,260.95" fill="#fff" stroke="#fff" stroke-width="2.6" stroke-linejoin="round"/>
<rect x="1408.9" y="237.8" width="69.9" height="23.6" rx="2.5" fill="#fff" stroke="#fff" stroke-width="3"/>
<polygon points="1405.9,270.65 1415.5,260.95 1419.4,260.95" fill="#F23645"/>
<rect x="1408.9" y="237.8" width="69.9" height="23.6" rx="2.5" fill="#F23645"/>
<text x="1443.9" y="254.8" text-anchor="middle" font-size="15.3" font-weight="700" fill="#fff" stroke="#fff" stroke-width="0.3" textLength="50.4" lengthAdjust="spacingAndGlyphs">11,265</text>
</g>
<rect x="626" y="78.0" width="685" height="133.0" fill="#F23645" fill-opacity="0.2"/>
<rect x="626" y="211.0" width="685" height="83.0" fill="#FF9800" fill-opacity="0.2"/>
<rect x="626" y="294.0" width="685" height="67.0" fill="#4CAF50" fill-opacity="0.2"/>
<rect x="626" y="361.0" width="685" height="66.0" fill="#089981" fill-opacity="0.2"/>
<rect x="626" y="427.0" width="685" height="95.0" fill="#00BCD4" fill-opacity="0.2"/>
<rect x="626" y="522.0" width="685" height="121.0" fill="#787B86" fill-opacity="0.2"/>
<rect x="626" y="643" width="685" height="152.4" fill="#2962FF" fill-opacity="0.2"/>
<line x1="626.5" y1="643" x2="1310.8" y2="77.9" stroke="#808080" stroke-width="1.7" stroke-dasharray="10.15 11.805"/>
<rect x="625" y="77" width="686" height="2" fill="#747579" shape-rendering="crispEdges"/>
<text x="617.6" y="81.9" text-anchor="end" font-size="12" fill="#787B86">0 (13,779)</text>
<rect x="625" y="210" width="686" height="2" fill="#CF2E3A" shape-rendering="crispEdges"/>
<text x="617.6" y="214.9" text-anchor="end" font-size="12" fill="#F23645">0.236 (12,100)</text>
<rect x="625" y="293" width="686" height="2" fill="#CF973C" shape-rendering="crispEdges"/>
<text x="617.6" y="297.9" text-anchor="end" font-size="12" fill="#FF9800">0.382 (11,062)</text>
<rect x="625" y="360" width="686" height="2" fill="#4AA04E" shape-rendering="crispEdges"/>
<text x="617.6" y="364.9" text-anchor="end" font-size="12" fill="#4CAF50">0.5 (10,223)</text>
<rect x="625" y="426" width="686" height="2" fill="#08826E" shape-rendering="crispEdges"/>
<text x="617.6" y="430.9" text-anchor="end" font-size="12" fill="#089981">0.618 (9,383)</text>
<rect x="625" y="521" width="686" height="2" fill="#2E9AA8" shape-rendering="crispEdges"/>
<text x="617.6" y="525.9" text-anchor="end" font-size="12" fill="#00BCD4">0.786 (8,188)</text>
<rect x="625" y="642" width="686" height="2" fill="#747579" shape-rendering="crispEdges"/>
<text x="617.6" y="646.9" text-anchor="end" font-size="12" fill="#787B86">1 (6,666)</text>
<g fill="#000" shape-rendering="crispEdges">
<rect x="10" y="368" width="1" height="1"/>
<rect x="13" y="368" width="1" height="1"/>
<rect x="16" y="368" width="1" height="1"/>
<rect x="19" y="368" width="1" height="1"/>
<rect x="22" y="368" width="1" height="1"/>
<rect x="25" y="368" width="1" height="1"/>
<rect x="28" y="368" width="1" height="1"/>
<rect x="31" y="368" width="1" height="1"/>
<rect x="34" y="368" width="1" height="1"/>
<rect x="37" y="368" width="1" height="1"/>
<rect x="40" y="368" width="1" height="1"/>
<rect x="43" y="368" width="1" height="1"/>
<rect x="46" y="368" width="1" height="1"/>
<rect x="49" y="368" width="1" height="1"/>
<rect x="52" y="368" width="1" height="1"/>
<rect x="55" y="368" width="1" height="1"/>
<rect x="58" y="368" width="1" height="1"/>
<rect x="61" y="368" width="1" height="1"/>
<rect x="64" y="368" width="1" height="1"/>
<rect x="67" y="368" width="1" height="1"/>
<rect x="70" y="368" width="1" height="1"/>
<rect x="73" y="368" width="1" height="1"/>
<rect x="76" y="368" width="1" height="1"/>
<rect x="79" y="368" width="1" height="1"/>
<rect x="82" y="368" width="1" height="1"/>
<rect x="85" y="368" width="1" height="1"/>
<rect x="88" y="368" width="1" height="1"/>
<rect x="91" y="368" width="1" height="1"/>
<rect x="94" y="368" width="1" height="1"/>
<rect x="97" y="368" width="1" height="1"/>
<rect x="100" y="368" width="1" height="1"/>
<rect x="103" y="368" width="1" height="1"/>
<rect x="106" y="368" width="1" height="1"/>
<rect x="109" y="368" width="1" height="1"/>
<rect x="112" y="368" width="1" height="1"/>
<rect x="115" y="368" width="1" height="1"/>
<rect x="118" y="368" width="1" height="1"/>
<rect x="121" y="368" width="1" height="1"/>
<rect x="124" y="368" width="1" height="1"/>
<rect x="127" y="368" width="1" height="1"/>
<rect x="130" y="368" width="1" height="1"/>
<rect x="133" y="368" width="1" height="1"/>
<rect x="136" y="368" width="1" height="1"/>
<rect x="139" y="368" width="1" height="1"/>
<rect x="142" y="368" width="1" height="1"/>
<rect x="145" y="368" width="1" height="1"/>
<rect x="148" y="368" width="1" height="1"/>
<rect x="151" y="368" width="1" height="1"/>
<rect x="154" y="368" width="1" height="1"/>
<rect x="157" y="368" width="1" height="1"/>
<rect x="160" y="368" width="1" height="1"/>
<rect x="163" y="368" width="1" height="1"/>
<rect x="166" y="368" width="1" height="1"/>
<rect x="169" y="368" width="1" height="1"/>
<rect x="172" y="368" width="1" height="1"/>
<rect x="175" y="368" width="1" height="1"/>
<rect x="178" y="368" width="1" height="1"/>
<rect x="181" y="368" width="1" height="1"/>
<rect x="184" y="368" width="1" height="1"/>
<rect x="187" y="368" width="1" height="1"/>
<rect x="190" y="368" width="1" height="1"/>
<rect x="193" y="368" width="1" height="1"/>
<rect x="196" y="368" width="1" height="1"/>
<rect x="199" y="368" width="1" height="1"/>
<rect x="202" y="368" width="1" height="1"/>
<rect x="205" y="368" width="1" height="1"/>
<rect x="208" y="368" width="1" height="1"/>
<rect x="211" y="368" width="1" height="1"/>
<rect x="214" y="368" width="1" height="1"/>
<rect x="217" y="368" width="1" height="1"/>
<rect x="220" y="368" width="1" height="1"/>
<rect x="223" y="368" width="1" height="1"/>
<rect x="226" y="368" width="1" height="1"/>
<rect x="229" y="368" width="1" height="1"/>
<rect x="232" y="368" width="1" height="1"/>
<rect x="235" y="368" width="1" height="1"/>
<rect x="238" y="368" width="1" height="1"/>
<rect x="241" y="368" width="1" height="1"/>
<rect x="244" y="368" width="1" height="1"/>
<rect x="247" y="368" width="1" height="1"/>
<rect x="250" y="368" width="1" height="1"/>
<rect x="253" y="368" width="1" height="1"/>
<rect x="256" y="368" width="1" height="1"/>
<rect x="259" y="368" width="1" height="1"/>
<rect x="262" y="368" width="1" height="1"/>
<rect x="265" y="368" width="1" height="1"/>
<rect x="268" y="368" width="1" height="1"/>
<rect x="271" y="368" width="1" height="1"/>
<rect x="274" y="368" width="1" height="1"/>
<rect x="277" y="368" width="1" height="1"/>
<rect x="280" y="368" width="1" height="1"/>
<rect x="283" y="368" width="1" height="1"/>
<rect x="286" y="368" width="1" height="1"/>
<rect x="289" y="368" width="1" height="1"/>
<rect x="292" y="368" width="1" height="1"/>
<rect x="295" y="368" width="1" height="1"/>
<rect x="298" y="368" width="1" height="1"/>
<rect x="301" y="368" width="1" height="1"/>
<rect x="304" y="368" width="1" height="1"/>
<rect x="307" y="368" width="1" height="1"/>
<rect x="310" y="368" width="1" height="1"/>
<rect x="313" y="368" width="1" height="1"/>
<rect x="316" y="368" width="1" height="1"/>
<rect x="319" y="368" width="1" height="1"/>
<rect x="322" y="368" width="1" height="1"/>
<rect x="325" y="368" width="1" height="1"/>
<rect x="328" y="368" width="1" height="1"/>
<rect x="331" y="368" width="1" height="1"/>
<rect x="334" y="368" width="1" height="1"/>
<rect x="337" y="368" width="1" height="1"/>
<rect x="340" y="368" width="1" height="1"/>
<rect x="343" y="368" width="1" height="1"/>
<rect x="346" y="368" width="1" height="1"/>
<rect x="349" y="368" width="1" height="1"/>
<rect x="352" y="368" width="1" height="1"/>
<rect x="355" y="368" width="1" height="1"/>
<rect x="358" y="368" width="1" height="1"/>
<rect x="361" y="368" width="1" height="1"/>
<rect x="364" y="368" width="1" height="1"/>
<rect x="367" y="368" width="1" height="1"/>
<rect x="370" y="368" width="1" height="1"/>
<rect x="373" y="368" width="1" height="1"/>
<rect x="376" y="368" width="1" height="1"/>
<rect x="379" y="368" width="1" height="1"/>
<rect x="382" y="368" width="1" height="1"/>
<rect x="385" y="368" width="1" height="1"/>
<rect x="388" y="368" width="1" height="1"/>
<rect x="391" y="368" width="1" height="1"/>
<rect x="394" y="368" width="1" height="1"/>
<rect x="397" y="368" width="1" height="1"/>
<rect x="400" y="368" width="1" height="1"/>
<rect x="403" y="368" width="1" height="1"/>
<rect x="406" y="368" width="1" height="1"/>
<rect x="409" y="368" width="1" height="1"/>
<rect x="412" y="368" width="1" height="1"/>
<rect x="415" y="368" width="1" height="1"/>
<rect x="418" y="368" width="1" height="1"/>
<rect x="421" y="368" width="1" height="1"/>
<rect x="424" y="368" width="1" height="1"/>
<rect x="427" y="368" width="1" height="1"/>
<rect x="430" y="368" width="1" height="1"/>
<rect x="433" y="368" width="1" height="1"/>
<rect x="436" y="368" width="1" height="1"/>
<rect x="439" y="368" width="1" height="1"/>
<rect x="442" y="368" width="1" height="1"/>
<rect x="445" y="368" width="1" height="1"/>
<rect x="448" y="368" width="1" height="1"/>
<rect x="451" y="368" width="1" height="1"/>
<rect x="454" y="368" width="1" height="1"/>
<rect x="457" y="368" width="1" height="1"/>
<rect x="460" y="368" width="1" height="1"/>
<rect x="463" y="368" width="1" height="1"/>
<rect x="466" y="368" width="1" height="1"/>
<rect x="469" y="368" width="1" height="1"/>
<rect x="472" y="368" width="1" height="1"/>
<rect x="475" y="368" width="1" height="1"/>
<rect x="478" y="368" width="1" height="1"/>
<rect x="481" y="368" width="1" height="1"/>
<rect x="484" y="368" width="1" height="1"/>
<rect x="487" y="368" width="1" height="1"/>
<rect x="490" y="368" width="1" height="1"/>
<rect x="493" y="368" width="1" height="1"/>
<rect x="496" y="368" width="1" height="1"/>
<rect x="499" y="368" width="1" height="1"/>
<rect x="502" y="368" width="1" height="1"/>
<rect x="505" y="368" width="1" height="1"/>
<rect x="508" y="368" width="1" height="1"/>
<rect x="511" y="368" width="1" height="1"/>
<rect x="514" y="368" width="1" height="1"/>
<rect x="517" y="368" width="1" height="1"/>
<rect x="520" y="368" width="1" height="1"/>
<rect x="523" y="368" width="1" height="1"/>
<rect x="526" y="368" width="1" height="1"/>
<rect x="529" y="368" width="1" height="1"/>
<rect x="532" y="368" width="1" height="1"/>
<rect x="535" y="368" width="1" height="1"/>
<rect x="538" y="368" width="1" height="1"/>
<rect x="541" y="368" width="1" height="1"/>
<rect x="544" y="368" width="1" height="1"/>
<rect x="547" y="368" width="1" height="1"/>
<rect x="550" y="368" width="1" height="1"/>
<rect x="553" y="368" width="1" height="1"/>
<rect x="556" y="368" width="1" height="1"/>
<rect x="559" y="368" width="1" height="1"/>
<rect x="562" y="368" width="1" height="1"/>
<rect x="565" y="368" width="1" height="1"/>
<rect x="568" y="368" width="1" height="1"/>
<rect x="571" y="368" width="1" height="1"/>
<rect x="574" y="368" width="1" height="1"/>
<rect x="577" y="368" width="1" height="1"/>
<rect x="580" y="368" width="1" height="1"/>
<rect x="583" y="368" width="1" height="1"/>
<rect x="586" y="368" width="1" height="1"/>
<rect x="589" y="368" width="1" height="1"/>
<rect x="592" y="368" width="1" height="1"/>
<rect x="595" y="368" width="1" height="1"/>
<rect x="598" y="368" width="1" height="1"/>
<rect x="601" y="368" width="1" height="1"/>
<rect x="604" y="368" width="1" height="1"/>
<rect x="607" y="368" width="1" height="1"/>
<rect x="610" y="368" width="1" height="1"/>
<rect x="613" y="368" width="1" height="1"/>
<rect x="616" y="368" width="1" height="1"/>
<rect x="619" y="368" width="1" height="1"/>
<rect x="622" y="368" width="1" height="1"/>
<rect x="625" y="368" width="1" height="1"/>
<rect x="628" y="368" width="1" height="1"/>
<rect x="631" y="368" width="1" height="1"/>
<rect x="634" y="368" width="1" height="1"/>
<rect x="637" y="368" width="1" height="1"/>
<rect x="640" y="368" width="1" height="1"/>
<rect x="643" y="368" width="1" height="1"/>
<rect x="646" y="368" width="1" height="1"/>
<rect x="649" y="368" width="1" height="1"/>
<rect x="652" y="368" width="1" height="1"/>
<rect x="655" y="368" width="1" height="1"/>
<rect x="658" y="368" width="1" height="1"/>
<rect x="661" y="368" width="1" height="1"/>
<rect x="664" y="368" width="1" height="1"/>
<rect x="667" y="368" width="1" height="1"/>
<rect x="670" y="368" width="1" height="1"/>
<rect x="673" y="368" width="1" height="1"/>
<rect x="676" y="368" width="1" height="1"/>
<rect x="679" y="368" width="1" height="1"/>
<rect x="682" y="368" width="1" height="1"/>
<rect x="685" y="368" width="1" height="1"/>
<rect x="688" y="368" width="1" height="1"/>
<rect x="691" y="368" width="1" height="1"/>
<rect x="694" y="368" width="1" height="1"/>
<rect x="697" y="368" width="1" height="1"/>
<rect x="700" y="368" width="1" height="1"/>
<rect x="703" y="368" width="1" height="1"/>
<rect x="706" y="368" width="1" height="1"/>
<rect x="709" y="368" width="1" height="1"/>
<rect x="712" y="368" width="1" height="1"/>
<rect x="715" y="368" width="1" height="1"/>
<rect x="718" y="368" width="1" height="1"/>
<rect x="721" y="368" width="1" height="1"/>
<rect x="724" y="368" width="1" height="1"/>
<rect x="727" y="368" width="1" height="1"/>
<rect x="730" y="368" width="1" height="1"/>
<rect x="733" y="368" width="1" height="1"/>
<rect x="736" y="368" width="1" height="1"/>
<rect x="739" y="368" width="1" height="1"/>
<rect x="742" y="368" width="1" height="1"/>
<rect x="745" y="368" width="1" height="1"/>
<rect x="748" y="368" width="1" height="1"/>
<rect x="751" y="368" width="1" height="1"/>
<rect x="754" y="368" width="1" height="1"/>
<rect x="757" y="368" width="1" height="1"/>
<rect x="760" y="368" width="1" height="1"/>
<rect x="763" y="368" width="1" height="1"/>
<rect x="766" y="368" width="1" height="1"/>
<rect x="769" y="368" width="1" height="1"/>
<rect x="772" y="368" width="1" height="1"/>
<rect x="775" y="368" width="1" height="1"/>
<rect x="778" y="368" width="1" height="1"/>
<rect x="781" y="368" width="1" height="1"/>
<rect x="784" y="368" width="1" height="1"/>
<rect x="787" y="368" width="1" height="1"/>
<rect x="790" y="368" width="1" height="1"/>
<rect x="793" y="368" width="1" height="1"/>
<rect x="796" y="368" width="1" height="1"/>
<rect x="799" y="368" width="1" height="1"/>
<rect x="802" y="368" width="1" height="1"/>
<rect x="805" y="368" width="1" height="1"/>
<rect x="808" y="368" width="1" height="1"/>
<rect x="811" y="368" width="1" height="1"/>
<rect x="814" y="368" width="1" height="1"/>
<rect x="817" y="368" width="1" height="1"/>
<rect x="820" y="368" width="1" height="1"/>
<rect x="823" y="368" width="1" height="1"/>
<rect x="826" y="368" width="1" height="1"/>
<rect x="829" y="368" width="1" height="1"/>
<rect x="832" y="368" width="1" height="1"/>
<rect x="835" y="368" width="1" height="1"/>
<rect x="838" y="368" width="1" height="1"/>
<rect x="841" y="368" width="1" height="1"/>
<rect x="844" y="368" width="1" height="1"/>
<rect x="847" y="368" width="1" height="1"/>
<rect x="850" y="368" width="1" height="1"/>
<rect x="853" y="368" width="1" height="1"/>
<rect x="856" y="368" width="1" height="1"/>
<rect x="859" y="368" width="1" height="1"/>
<rect x="862" y="368" width="1" height="1"/>
<rect x="865" y="368" width="1" height="1"/>
<rect x="868" y="368" width="1" height="1"/>
<rect x="871" y="368" width="1" height="1"/>
<rect x="874" y="368" width="1" height="1"/>
<rect x="877" y="368" width="1" height="1"/>
<rect x="880" y="368" width="1" height="1"/>
<rect x="883" y="368" width="1" height="1"/>
<rect x="886" y="368" width="1" height="1"/>
<rect x="889" y="368" width="1" height="1"/>
<rect x="892" y="368" width="1" height="1"/>
<rect x="895" y="368" width="1" height="1"/>
<rect x="898" y="368" width="1" height="1"/>
<rect x="901" y="368" width="1" height="1"/>
<rect x="904" y="368" width="1" height="1"/>
<rect x="907" y="368" width="1" height="1"/>
<rect x="910" y="368" width="1" height="1"/>
<rect x="913" y="368" width="1" height="1"/>
<rect x="916" y="368" width="1" height="1"/>
<rect x="919" y="368" width="1" height="1"/>
<rect x="922" y="368" width="1" height="1"/>
<rect x="925" y="368" width="1" height="1"/>
<rect x="928" y="368" width="1" height="1"/>
<rect x="931" y="368" width="1" height="1"/>
<rect x="934" y="368" width="1" height="1"/>
<rect x="937" y="368" width="1" height="1"/>
<rect x="940" y="368" width="1" height="1"/>
<rect x="943" y="368" width="1" height="1"/>
<rect x="946" y="368" width="1" height="1"/>
<rect x="949" y="368" width="1" height="1"/>
<rect x="952" y="368" width="1" height="1"/>
<rect x="955" y="368" width="1" height="1"/>
<rect x="958" y="368" width="1" height="1"/>
<rect x="961" y="368" width="1" height="1"/>
<rect x="964" y="368" width="1" height="1"/>
<rect x="967" y="368" width="1" height="1"/>
<rect x="970" y="368" width="1" height="1"/>
<rect x="973" y="368" width="1" height="1"/>
<rect x="976" y="368" width="1" height="1"/>
<rect x="979" y="368" width="1" height="1"/>
<rect x="982" y="368" width="1" height="1"/>
<rect x="985" y="368" width="1" height="1"/>
<rect x="988" y="368" width="1" height="1"/>
<rect x="991" y="368" width="1" height="1"/>
<rect x="994" y="368" width="1" height="1"/>
<rect x="997" y="368" width="1" height="1"/>
<rect x="1000" y="368" width="1" height="1"/>
<rect x="1003" y="368" width="1" height="1"/>
<rect x="1006" y="368" width="1" height="1"/>
<rect x="1009" y="368" width="1" height="1"/>
<rect x="1012" y="368" width="1" height="1"/>
<rect x="1015" y="368" width="1" height="1"/>
<rect x="1018" y="368" width="1" height="1"/>
<rect x="1021" y="368" width="1" height="1"/>
<rect x="1024" y="368" width="1" height="1"/>
<rect x="1027" y="368" width="1" height="1"/>
<rect x="1030" y="368" width="1" height="1"/>
<rect x="1033" y="368" width="1" height="1"/>
<rect x="1036" y="368" width="1" height="1"/>
<rect x="1039" y="368" width="1" height="1"/>
<rect x="1042" y="368" width="1" height="1"/>
<rect x="1045" y="368" width="1" height="1"/>
<rect x="1048" y="368" width="1" height="1"/>
<rect x="1051" y="368" width="1" height="1"/>
<rect x="1054" y="368" width="1" height="1"/>
<rect x="1057" y="368" width="1" height="1"/>
<rect x="1060" y="368" width="1" height="1"/>
<rect x="1063" y="368" width="1" height="1"/>
<rect x="1066" y="368" width="1" height="1"/>
<rect x="1069" y="368" width="1" height="1"/>
<rect x="1072" y="368" width="1" height="1"/>
<rect x="1075" y="368" width="1" height="1"/>
<rect x="1078" y="368" width="1" height="1"/>
<rect x="1081" y="368" width="1" height="1"/>
<rect x="1084" y="368" width="1" height="1"/>
<rect x="1087" y="368" width="1" height="1"/>
<rect x="1090" y="368" width="1" height="1"/>
<rect x="1093" y="368" width="1" height="1"/>
<rect x="1096" y="368" width="1" height="1"/>
<rect x="1099" y="368" width="1" height="1"/>
<rect x="1102" y="368" width="1" height="1"/>
<rect x="1105" y="368" width="1" height="1"/>
<rect x="1108" y="368" width="1" height="1"/>
<rect x="1111" y="368" width="1" height="1"/>
<rect x="1114" y="368" width="1" height="1"/>
<rect x="1117" y="368" width="1" height="1"/>
<rect x="1120" y="368" width="1" height="1"/>
<rect x="1123" y="368" width="1" height="1"/>
<rect x="1126" y="368" width="1" height="1"/>
<rect x="1129" y="368" width="1" height="1"/>
<rect x="1132" y="368" width="1" height="1"/>
<rect x="1135" y="368" width="1" height="1"/>
<rect x="1138" y="368" width="1" height="1"/>
<rect x="1141" y="368" width="1" height="1"/>
<rect x="1144" y="368" width="1" height="1"/>
<rect x="1147" y="368" width="1" height="1"/>
<rect x="1150" y="368" width="1" height="1"/>
<rect x="1153" y="368" width="1" height="1"/>
<rect x="1156" y="368" width="1" height="1"/>
<rect x="1159" y="368" width="1" height="1"/>
<rect x="1162" y="368" width="1" height="1"/>
<rect x="1165" y="368" width="1" height="1"/>
<rect x="1168" y="368" width="1" height="1"/>
<rect x="1171" y="368" width="1" height="1"/>
<rect x="1174" y="368" width="1" height="1"/>
<rect x="1177" y="368" width="1" height="1"/>
<rect x="1180" y="368" width="1" height="1"/>
<rect x="1183" y="368" width="1" height="1"/>
<rect x="1186" y="368" width="1" height="1"/>
<rect x="1189" y="368" width="1" height="1"/>
<rect x="1192" y="368" width="1" height="1"/>
<rect x="1195" y="368" width="1" height="1"/>
<rect x="1198" y="368" width="1" height="1"/>
<rect x="1201" y="368" width="1" height="1"/>
<rect x="1204" y="368" width="1" height="1"/>
<rect x="1207" y="368" width="1" height="1"/>
<rect x="1210" y="368" width="1" height="1"/>
<rect x="1213" y="368" width="1" height="1"/>
<rect x="1216" y="368" width="1" height="1"/>
<rect x="1219" y="368" width="1" height="1"/>
<rect x="1222" y="368" width="1" height="1"/>
<rect x="1225" y="368" width="1" height="1"/>
<rect x="1228" y="368" width="1" height="1"/>
<rect x="1231" y="368" width="1" height="1"/>
<rect x="1234" y="368" width="1" height="1"/>
<rect x="1237" y="368" width="1" height="1"/>
<rect x="1240" y="368" width="1" height="1"/>
<rect x="1243" y="368" width="1" height="1"/>
<rect x="1246" y="368" width="1" height="1"/>
<rect x="1249" y="368" width="1" height="1"/>
<rect x="1252" y="368" width="1" height="1"/>
<rect x="1255" y="368" width="1" height="1"/>
<rect x="1258" y="368" width="1" height="1"/>
<rect x="1261" y="368" width="1" height="1"/>
<rect x="1264" y="368" width="1" height="1"/>
<rect x="1267" y="368" width="1" height="1"/>
<rect x="1270" y="368" width="1" height="1"/>
<rect x="1273" y="368" width="1" height="1"/>
<rect x="1276" y="368" width="1" height="1"/>
<rect x="1279" y="368" width="1" height="1"/>
<rect x="1282" y="368" width="1" height="1"/>
<rect x="1285" y="368" width="1" height="1"/>
<rect x="1288" y="368" width="1" height="1"/>
<rect x="1291" y="368" width="1" height="1"/>
<rect x="1294" y="368" width="1" height="1"/>
<rect x="1297" y="368" width="1" height="1"/>
<rect x="1300" y="368" width="1" height="1"/>
<rect x="1303" y="368" width="1" height="1"/>
<rect x="1306" y="368" width="1" height="1"/>
<rect x="1309" y="368" width="1" height="1"/>
<rect x="1312" y="368" width="1" height="1"/>
<rect x="1315" y="368" width="1" height="1"/>
<rect x="1318" y="368" width="1" height="1"/>
<rect x="1321" y="368" width="1" height="1"/>
<rect x="1324" y="368" width="1" height="1"/>
<rect x="1327" y="368" width="1" height="1"/>
<rect x="1330" y="368" width="1" height="1"/>
<rect x="1333" y="368" width="1" height="1"/>
<rect x="1336" y="368" width="1" height="1"/>
<rect x="1339" y="368" width="1" height="1"/>
<rect x="1342" y="368" width="1" height="1"/>
<rect x="1345" y="368" width="1" height="1"/>
<rect x="1348" y="368" width="1" height="1"/>
<rect x="1351" y="368" width="1" height="1"/>
<rect x="1354" y="368" width="1" height="1"/>
<rect x="1357" y="368" width="1" height="1"/>
<rect x="1360" y="368" width="1" height="1"/>
<rect x="1363" y="368" width="1" height="1"/>
<rect x="1366" y="368" width="1" height="1"/>
<rect x="1369" y="368" width="1" height="1"/>
<rect x="1372" y="368" width="1" height="1"/>
<rect x="1375" y="368" width="1" height="1"/>
<rect x="1378" y="368" width="1" height="1"/>
<rect x="1381" y="368" width="1" height="1"/>
<rect x="1384" y="368" width="1" height="1"/>
<rect x="1387" y="368" width="1" height="1"/>
<rect x="1390" y="368" width="1" height="1"/>
<rect x="1393" y="368" width="1" height="1"/>
<rect x="1396" y="368" width="1" height="1"/>
<rect x="1399" y="368" width="1" height="1"/>
<rect x="1402" y="368" width="1" height="1"/>
<rect x="1405" y="368" width="1" height="1"/>
<rect x="1408" y="368" width="1" height="1"/>
<rect x="1411" y="368" width="1" height="1"/>
<rect x="1414" y="368" width="1" height="1"/>
<rect x="1417" y="368" width="1" height="1"/>
<rect x="1420" y="368" width="1" height="1"/>
<rect x="1423" y="368" width="1" height="1"/>
<rect x="1426" y="368" width="1" height="1"/>
<rect x="1429" y="368" width="1" height="1"/>
<rect x="1432" y="368" width="1" height="1"/>
<rect x="1435" y="368" width="1" height="1"/>
<rect x="1438" y="368" width="1" height="1"/>
<rect x="1441" y="368" width="1" height="1"/>
<rect x="1444" y="368" width="1" height="1"/>
<rect x="1447" y="368" width="1" height="1"/>
<rect x="1450" y="368" width="1" height="1"/>
<rect x="1453" y="368" width="1" height="1"/>
<rect x="1456" y="368" width="1" height="1"/>
<rect x="1459" y="368" width="1" height="1"/>
<rect x="1462" y="368" width="1" height="1"/>
<rect x="1465" y="368" width="1" height="1"/>
<rect x="1468" y="368" width="1" height="1"/>
<rect x="1471" y="368" width="1" height="1"/>
<rect x="1474" y="368" width="1" height="1"/>
<rect x="1477" y="368" width="1" height="1"/>
<rect x="1480" y="368" width="1" height="1"/>
<rect x="1483" y="368" width="1" height="1"/>
<rect x="1486" y="368" width="1" height="1"/>
<rect x="1489" y="368" width="1" height="1"/>
<rect x="1492" y="368" width="1" height="1"/>
<rect x="1495" y="368" width="1" height="1"/>
<rect x="1498" y="368" width="1" height="1"/>
<rect x="1501" y="368" width="1" height="1"/>
<rect x="1504" y="368" width="1" height="1"/>
<rect x="1507" y="368" width="1" height="1"/>
<rect x="1510" y="368" width="1" height="1"/>
<rect x="1513" y="368" width="1" height="1"/>
<rect x="1516" y="368" width="1" height="1"/>
<rect x="1519" y="368" width="1" height="1"/>
<rect x="1522" y="368" width="1" height="1"/>
<rect x="1525" y="368" width="1" height="1"/>
<rect x="1528" y="368" width="1" height="1"/>
<rect x="1531" y="368" width="1" height="1"/>
<rect x="1534" y="368" width="1" height="1"/>
<rect x="1537" y="368" width="1" height="1"/>
<rect x="1540" y="368" width="1" height="1"/>
<rect x="1543" y="368" width="1" height="1"/>
<rect x="1546" y="368" width="1" height="1"/>
<rect x="1549" y="368" width="1" height="1"/>
<rect x="1552" y="368" width="1" height="1"/>
<rect x="1555" y="368" width="1" height="1"/>
<rect x="1558" y="368" width="1" height="1"/>
<rect x="1561" y="368" width="1" height="1"/>
<rect x="1564" y="368" width="1" height="1"/>
<rect x="1567" y="368" width="1" height="1"/>
<rect x="1570" y="368" width="1" height="1"/>
<rect x="1573" y="368" width="1" height="1"/>
<rect x="1576" y="368" width="1" height="1"/>
<rect x="1579" y="368" width="1" height="1"/>
<rect x="1582" y="368" width="1" height="1"/>
<rect x="1585" y="368" width="1" height="1"/>
<rect x="1588" y="368" width="1" height="1"/>
<rect x="1591" y="368" width="1" height="1"/>
<rect x="1594" y="368" width="1" height="1"/>
<rect x="1597" y="368" width="1" height="1"/>
<rect x="1600" y="368" width="1" height="1"/>
<rect x="1603" y="368" width="1" height="1"/>
<rect x="1606" y="368" width="1" height="1"/>
<rect x="1609" y="368" width="1" height="1"/>
<rect x="1612" y="368" width="1" height="1"/>
<rect x="1615" y="368" width="1" height="1"/>
<rect x="1618" y="368" width="1" height="1"/>
<rect x="1621" y="368" width="1" height="1"/>
<rect x="1624" y="368" width="1" height="1"/>
<rect x="1627" y="368" width="1" height="1"/>
<rect x="1630" y="368" width="1" height="1"/>
<rect x="1633" y="368" width="1" height="1"/>
<rect x="1636" y="368" width="1" height="1"/>
<rect x="1639" y="368" width="1" height="1"/>
<rect x="1642" y="368" width="1" height="1"/>
<rect x="1645" y="368" width="1" height="1"/>
<rect x="1648" y="368" width="1" height="1"/>
<rect x="1651" y="368" width="1" height="1"/>
<rect x="1654" y="368" width="1" height="1"/>
<rect x="1657" y="368" width="1" height="1"/>
<rect x="1660" y="368" width="1" height="1"/>
<rect x="1663" y="368" width="1" height="1"/>
<rect x="1666" y="368" width="1" height="1"/>
<rect x="1669" y="368" width="1" height="1"/>
<rect x="1672" y="368" width="1" height="1"/>
<rect x="1675" y="368" width="1" height="1"/>
<rect x="1678" y="368" width="1" height="1"/>
<rect x="1681" y="368" width="1" height="1"/>
<rect x="1684" y="368" width="1" height="1"/>
<rect x="1687" y="368" width="1" height="1"/>
<rect x="1690" y="368" width="1" height="1"/>
<rect x="1693" y="368" width="1" height="1"/>
<rect x="1696" y="368" width="1" height="1"/>
<rect x="1699" y="368" width="1" height="1"/>
<rect x="1702" y="368" width="1" height="1"/>
<rect x="1705" y="368" width="1" height="1"/>
<rect x="1708" y="368" width="1" height="1"/>
<rect x="1711" y="368" width="1" height="1"/>
<rect x="1714" y="368" width="1" height="1"/>
<rect x="1717" y="368" width="1" height="1"/>
<rect x="1720" y="368" width="1" height="1"/>
<rect x="1723" y="368" width="1" height="1"/>
<rect x="1726" y="368" width="1" height="1"/>
<rect x="1729" y="368" width="1" height="1"/>
<rect x="1732" y="368" width="1" height="1"/>
<rect x="1735" y="368" width="1" height="1"/>
<rect x="1738" y="368" width="1" height="1"/>
<rect x="1741" y="368" width="1" height="1"/>
<rect x="1744" y="368" width="1" height="1"/>
<rect x="1747" y="368" width="1" height="1"/>
<rect x="1750" y="368" width="1" height="1"/>
<rect x="1753" y="368" width="1" height="1"/>
<rect x="1756" y="368" width="1" height="1"/>
</g>
<g font-size="11.8" fill="#131722">
<text x="1768" y="31.5">14,400</text>
<text x="1768" y="63.3">14,000</text>
<text x="1768" y="95.1">13,600</text>
<text x="1768" y="126.9">13,200</text>
<text x="1768" y="158.8">12,800</text>
<text x="1768" y="190.6">12,400</text>
<text x="1768" y="222.4">12,000</text>
<text x="1768" y="254.2">11,600</text>
<text x="1768" y="286.0">11,200</text>
<text x="1768" y="317.9">10,800</text>
<text x="1768" y="349.7">10,400</text>
<text x="1768" y="381.5">10,000</text>
<text x="1768" y="413.3">9,600</text>
<text x="1768" y="445.1">9,200</text>
<text x="1768" y="477.0">8,800</text>
<text x="1768" y="508.8">8,400</text>
<text x="1768" y="540.6">8,000</text>
<text x="1768" y="572.4">7,600</text>
<text x="1768" y="604.2">7,200</text>
<text x="1768" y="636.1">6,800</text>
<text x="1768" y="667.9">6,400</text>
<text x="1768" y="699.7">6,000</text>
<text x="1768" y="731.5">5,600</text>
<text x="1768" y="763.3">5,200</text>
<text x="1768" y="795.2">4,800</text>
</g>
<path d="M1729.1 70.3H1758.8V86.7H1729.1a2 2 0 0 1 -2 -2V72.3a2 2 0 0 1 2 -2z" fill="#F23645"/>
<path d="M1759.5 70.3H1807.0a2 2 0 0 1 2 2V84.7a2 2 0 0 1 -2 2H1759.5z" fill="#F23645"/>
<text x="1742.9" y="82.7" text-anchor="middle" font-size="12" font-weight="700" fill="#fff">高値</text>
<text x="1768" y="82.5" font-size="11.8" font-weight="700" fill="#fff">13,779</text>
<path d="M1729.1 713.4H1758.8V729.8H1729.1a2 2 0 0 1 -2 -2V715.4a2 2 0 0 1 2 -2z" fill="#F23645"/>
<path d="M1759.5 713.4H1801.2a2 2 0 0 1 2 2V727.8a2 2 0 0 1 -2 2H1759.5z" fill="#F23645"/>
<text x="1742.9" y="725.8" text-anchor="middle" font-size="12" font-weight="700" fill="#fff">安値</text>
<text x="1768" y="725.6" font-size="11.8" font-weight="700" fill="#fff">5,686</text>
<rect x="1760" y="360" width="60" height="30.8" rx="2" fill="#000"/>
<text x="1768" y="372" font-size="11.8" font-weight="700" fill="#fff">10,126</text>
<text x="1768" y="386" font-size="11.8" font-weight="700" fill="#D1D4DC">02:10:44</text>
<rect x="1760" y="0" width="64" height="32" fill="#fff"/>
<rect x="1762.5" y="2" width="58.5" height="26" rx="4" fill="#fff" stroke="#EBECEF" stroke-width="1"/>
<text x="1772" y="19.7" font-size="12" fill="#131722" textLength="18.2" lengthAdjust="spacingAndGlyphs">JPY</text>
<g font-size="11.8" fill="#131722" text-anchor="middle">
<text x="29.7" y="814">8月</text>
<text x="250.5" y="814">9月</text>
<text x="470.7" y="814">10月</text>
<text x="713.7" y="814">11月</text>
<text x="912.3" y="814">12月</text>
<text x="1365.1" y="814">2月</text>
<text x="1563.4" y="814">3月</text>
<text x="1155.8" y="814" font-weight="700">2026</text>
</g>
<g font-size="11.8" fill="#131722">
<text x="18.1" y="17" textLength="91.1" lengthAdjust="spacingAndGlyphs">Platinum Futures</text>
<text x="121.5" y="17" textLength="16.1" lengthAdjust="spacingAndGlyphs">1日</text>
<text x="151.9" y="17" textLength="37.4" lengthAdjust="spacingAndGlyphs">TOCOM</text>
<text x="197" y="17" textLength="59.2" lengthAdjust="spacingAndGlyphs">始値10,268</text>
<text x="264.4" y="17" textLength="59.1" lengthAdjust="spacingAndGlyphs">高値10,362</text>
<text x="331.7" y="17" textLength="59.1" lengthAdjust="spacingAndGlyphs">安値10,010</text>
<text x="398.4" y="17" textLength="59.1" lengthAdjust="spacingAndGlyphs">終値10,126</text>
<text x="465.7" y="17" textLength="73.5" lengthAdjust="spacingAndGlyphs">−121 (−1.18%)</text>
<text x="113.4" y="17.2" text-anchor="middle" font-size="12.5" font-weight="700">·</text>
<text x="144.6" y="17.2" text-anchor="middle" font-size="12.5" font-weight="700">·</text>
<text x="18.1" y="34" textLength="46.8" lengthAdjust="spacingAndGlyphs">MA Cross</text>
<text x="69.8" y="34" textLength="91.9" lengthAdjust="spacingAndGlyphs">(移動平均の交差)</text>
<text x="166.4" y="34" textLength="33.7" lengthAdjust="spacingAndGlyphs">(9, 26)</text>
<text x="208.6" y="34" textLength="28.7" lengthAdjust="spacingAndGlyphs" fill="#F23645">9,995</text>
<text x="245.5" y="34" textLength="35.3" lengthAdjust="spacingAndGlyphs" fill="#2962FF">10,947</text>
<text x="18.1" y="51" textLength="46.8" lengthAdjust="spacingAndGlyphs">MA Cross</text>
<text x="69.8" y="51" textLength="91.9" lengthAdjust="spacingAndGlyphs">(移動平均の交差)</text>
<text x="166.4" y="51" textLength="33.7" lengthAdjust="spacingAndGlyphs">(9, 52)</text>
<text x="208.6" y="51" textLength="28.7" lengthAdjust="spacingAndGlyphs" fill="#F23645">9,995</text>
<text x="245.5" y="51" textLength="35.3" lengthAdjust="spacingAndGlyphs" fill="#000">10,157</text>
</g>
<g transform="translate(12,842.9) scale(0.84,0.806)" fill="#0E1118">
<path d="M14 22H7V11H0V4h14v18z"/><circle cx="20" cy="8" r="4"/><path d="M28 22h-8l7.5-18h8L28 22z"/>
</g>
<text x="48.6" y="860.6" font-size="20.3" font-weight="700" fill="#0E1118" stroke="#0E1118" stroke-width="0.45" textLength="120.6" lengthAdjust="spacingAndGlyphs">TradingView</text>
</svg>
</body></html>
